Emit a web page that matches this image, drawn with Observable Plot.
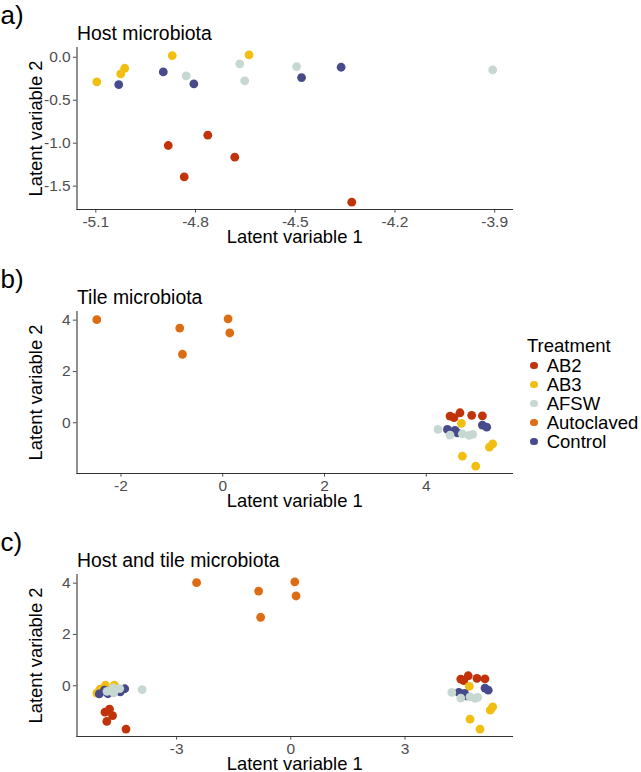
<!DOCTYPE html>
<html><head><meta charset="utf-8">
<script src="https://cdn.jsdelivr.net/npm/d3@7"></script>
<script src="https://cdn.jsdelivr.net/npm/@observablehq/plot@0.6"></script>
<style>
html,body{margin:0;padding:0;background:#fff;}
#fig{position:relative;width:641px;height:772px;overflow:hidden;font-family:"Liberation Sans",Arial,sans-serif;background:#fff;}
#fig svg{position:absolute;left:0;}
.lg{position:absolute;font-size:18.5px;line-height:19px;color:#000;white-space:nowrap;}
.sw{position:absolute;width:7.4px;height:7.4px;border-radius:50%;}
</style></head><body><div id="fig"></div>
<script>
const FONT = '"Liberation Sans", Arial, sans-serif';
const treatments = ["AB2", "AB3", "AFSW", "Autoclaved", "Control"];
const colors = ["#C1330B", "#F1BF12", "#C6D8D1", "#DD6D12", "#474B8B"];

// Host microbiota (panel a)
const hostTreatment = ["AB2","AB2","AB2","AB2","AB2",
  "AB3","AB3","AB3","AB3","AB3",
  "Control","Control","Control","Control","Control",
  "AFSW","AFSW","AFSW","AFSW","AFSW"];
const hostX = [-4.882, -4.763, -4.682, -4.834, -4.330,
  -5.097, -5.025, -5.013, -4.870, -4.639,
  -5.031, -4.897, -4.805, -4.481, -4.362,
  -4.828, -4.667, -4.652, -4.496, -3.906];
const hostY = [-1.027, -0.907, -1.163, -1.391, -1.686,
  -0.286, -0.193, -0.128, 0.020, 0.028,
  -0.318, -0.170, -0.310, -0.236, -0.116,
  -0.217, -0.078, -0.275, -0.108, -0.147];

// Tile microbiota (panel b)
const tileTreatment = ["Autoclaved","Autoclaved","Autoclaved","Autoclaved","Autoclaved",
  "AB2","AB2","AB2","AB2","AB2",
  "AB3","AB3","AB3","AB3","AB3",
  "Control","Control","Control","Control","Control",
  "AFSW","AFSW","AFSW","AFSW","AFSW"];
const tileX = [-2.475, -0.845, -0.792, 0.105, 0.138,
  4.466, 4.662, 4.544, 4.892, 5.102,
  4.690, 4.709, 4.971, 5.240, 5.305,
  4.415, 4.564, 4.611, 5.102, 5.187,
  4.230, 4.466, 4.709, 4.839, 4.912];
const tileY = [4.02, 3.69, 2.67, 4.05, 3.50,
  0.26, 0.39, 0.20, 0.29, 0.27,
  -0.02, -1.30, -1.69, -0.95, -0.82,
  -0.26, -0.30, -0.39, -0.09, -0.17,
  -0.26, -0.48, -0.43, -0.49, -0.45];

const panels = [
  {tag: "a)", title: "Host microbiota", top: 0, height: 263,
   xTicks: [-5.1, -4.8, -4.5, -4.2, -3.9], yTicks: [0, -0.5, -1, -1.5], dec: 1},
  {tag: "b)", title: "Tile microbiota", top: 263.7, height: 263,
   xTicks: [-2, 0, 2, 4], yTicks: [0, 2, 4], dec: 0},
  {tag: "c)", title: "Host and tile microbiota", top: 527, height: 245,
   xTicks: [-3, 0, 3], yTicks: [0, 2, 4], dec: 0}
];

const host = hostX.map((x, i) => ({x, y: hostY[i], treatment: hostTreatment[i]}));
const tile = tileX.map((x, i) => ({x, y: tileY[i], treatment: tileTreatment[i]}));
const datasets = [host, tile, host.concat(tile)];

function expand([a, b]) { const d = (b - a) * 0.05; return [a - d, b + d]; }

const fig = document.getElementById("fig");
panels.forEach((o, k) => {
  const data = datasets[k];
  const fmt = d => (d < 0 ? "-" : "") + Math.abs(d).toFixed(o.dec);
  const svg = Plot.plot({
    width: 641, height: o.height,
    marginLeft: 76.5, marginRight: 129, marginTop: 47, marginBottom: o.height - 209,
    style: {fontFamily: FONT, fontSize: "15.5px", background: "transparent", overflow: "visible"},
    x: {domain: expand(d3.extent(data, d => d.x))},
    y: {domain: expand(d3.extent(data, d => d.y))},
    color: {domain: treatments, range: colors},
    marks: [
      Plot.axisX({ticks: o.xTicks, tickFormat: fmt, tickSize: 3.6, tickPadding: 3, fontSize: 15.5, color: "#4d4d4d", label: null}),
      Plot.axisY({ticks: o.yTicks, tickFormat: fmt, tickSize: 3.6, tickPadding: 2.7, fontSize: 15.5, color: "#4d4d4d", label: null}),
      Plot.frame({anchor: "bottom", stroke: "#333", strokeWidth: 1.1}),
      Plot.frame({anchor: "left", stroke: "#333", strokeWidth: 1.1}),
      Plot.dot(data, {x: "x", y: "y", fill: "treatment", r: 4.4}),
      Plot.text([o.title], {text: d => d, frameAnchor: "top-left", textAnchor: "start", lineAnchor: "bottom", dy: -8, fontSize: 19.4, fill: "#000"}),
      Plot.text([o.tag], {text: d => d, frameAnchor: "top-left", textAnchor: "start", lineAnchor: "bottom", dx: -76.5, dy: -24, fontSize: 26, fill: "#000"}),
      Plot.text(["Latent variable 1"], {text: d => d, frameAnchor: "bottom", textAnchor: "middle", lineAnchor: "middle", dy: 28, fontSize: 18.4, fill: "#000"}),
      Plot.text(["Latent variable 2"], {text: d => d, frameAnchor: "left", textAnchor: "middle", lineAnchor: "middle", rotate: -90, dx: -40.5, fontSize: 18.4, fill: "#000"})
    ]
  });
  svg.style.top = o.top + "px";
  fig.appendChild(svg);
});

// Legend
const lgTitle = document.createElement("div");
lgTitle.className = "lg";
lgTitle.textContent = "Treatment";
lgTitle.style.left = "527px";
lgTitle.style.top = (345 - 9.3) + "px";
fig.appendChild(lgTitle);
treatments.forEach((t, i) => {
  const cy = 365.7 + i * 19;
  const sw = document.createElement("div");
  sw.className = "sw";
  sw.style.background = colors[i];
  sw.style.left = (534 - 3.7) + "px";
  sw.style.top = (cy - 3.7) + "px";
  fig.appendChild(sw);
  const lb = document.createElement("div");
  lb.className = "lg";
  lb.textContent = t;
  lb.style.left = "546.7px";
  lb.style.top = (cy - 9.3) + "px";
  fig.appendChild(lb);
});
</script></body></html>
